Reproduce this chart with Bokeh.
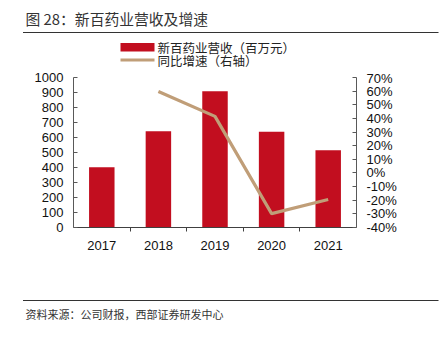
from bokeh.plotting import figure
from bokeh.models import Range1d, LinearAxis, FixedTicker, PrintfTickFormatter
from bokeh.layouts import column
from bokeh.core.properties import value
from bokeh.embed import file_html
from bokeh.resources import INLINE

# ---- data ----
years = ["2017", "2018", "2019", "2020", "2021"]
revenue = [402, 642, 909, 638, 515]          # 百万元
growth_years = ["2018", "2019", "2020", "2021"]
growth = [59.7, 41.5, -29.8, -19.5]          # %
left_ticks = [0, 100, 200, 300, 400, 500, 600, 700, 800, 900, 1000]
right_ticks = [-40, -30, -20, -10, 0, 10, 20, 30, 40, 50, 60, 70]

title_text = "图 28：新百药业营收及增速"
legend_bar = "新百药业营收（百万元）"
legend_line = "同比增速（右轴）"
source_text = "资料来源：公司财报，西部证券研发中心"

BAR = "#C20E1F"
LINE = "#C09E78"
CJK = value("Noto Sans CJK SC")
W = 444


def blank(h):
    f = figure(width=W, height=h, x_range=Range1d(0, W), y_range=Range1d(h, 0),
               toolbar_location=None, output_backend="svg", min_border=0)
    f.axis.visible = False
    f.grid.visible = False
    f.outline_line_color = None
    try:
        f.frame_align = False
    except Exception as e:
        print("no frame_align", e)
    return f


# ---- header: title, rule, legend ----
head = blank(70)
head.text(x=[25], y=[18], text=[title_text], text_baseline="middle",
          text_font=CJK, text_font_size="14.8px", text_color="#333333")
head.segment(x0=[22.5], y0=[32], x1=[438], y1=[32], line_color="#333333", line_width=1.2)
head.quad(left=[120], right=[154], top=[42.5], bottom=[51], fill_color=BAR, line_color=None)
head.text(x=[157], y=[47], text=[legend_bar], text_baseline="middle",
          text_font=CJK, text_font_size="12.5px", text_color="#222222")
head.segment(x0=[120], y0=[59.5], x1=[154], y1=[59.5], line_color=LINE, line_width=3)
head.text(x=[157], y=[59.5], text=[legend_line], text_baseline="middle",
          text_font=CJK, text_font_size="12.5px", text_color="#222222")

# ---- main chart ----
xi = list(range(len(years)))
gx = [years.index(y) for y in growth_years]

p = figure(width=W, height=222, x_range=Range1d(-0.5, len(years) - 0.5),
           y_range=Range1d(0, 1000), toolbar_location=None, output_backend="svg",
           min_border_left=73, min_border_right=88, min_border_top=7, min_border_bottom=65,
           y_axis_location=None)
p.grid.visible = False
p.outline_line_color = None
p.extra_y_ranges = {"pct": Range1d(-40, 70)}
try:
    p.frame_align = False
except Exception as e:
    print("no frame_align", e)

p.vbar(x=xi, top=revenue, width=0.45, fill_color=BAR, line_color=None)
p.line(x=gx, y=growth, y_range_name="pct", line_color=LINE, line_width=3.2)

ax_l = LinearAxis(ticker=FixedTicker(ticks=left_ticks))
ax_r = LinearAxis(y_range_name="pct", ticker=FixedTicker(ticks=right_ticks),
                  formatter=PrintfTickFormatter(format="%d%%"))
for ax in (ax_l, ax_r):
    ax.major_tick_in = 4
    ax.major_tick_out = 0
    ax.minor_tick_line_color = None
    ax.major_label_standoff = 10
    ax.axis_line_color = "#595959"
    ax.major_tick_line_color = "#595959"
    ax.major_label_text_font = "Liberation Sans"
    ax.major_label_text_font_size = "13px"
    ax.major_label_text_color = "#111111"
p.add_layout(ax_l, "left")
p.add_layout(ax_r, "right")

xa = p.xaxis[0]
xa.ticker = FixedTicker(ticks=xi, minor_ticks=[i + 0.5 for i in xi[:-1]])
xa.major_label_overrides = {i: y for i, y in zip(xi, years)}
xa.major_tick_line_color = None
xa.major_tick_out = 0
xa.major_tick_in = 0
xa.minor_tick_out = 4
xa.minor_tick_in = 0
xa.minor_tick_line_color = "#404040"
xa.axis_line_color = "#404040"
xa.major_label_standoff = 9
xa.major_label_text_font = "Liberation Sans"
xa.major_label_text_font_size = "13px"
xa.major_label_text_color = "#111111"

# ---- footer: rule and source ----
foot = blank(48)
foot.segment(x0=[22.5], y0=[8], x1=[438], y1=[8], line_color="#333333", line_width=1.2)
foot.text(x=[25], y=[21], text=[source_text], text_baseline="middle",
          text_font=CJK, text_font_size="11px", text_color="#333333")

layout = column(head, p, foot, spacing=0)
open("out.html", "w").write(file_html(layout, INLINE))
